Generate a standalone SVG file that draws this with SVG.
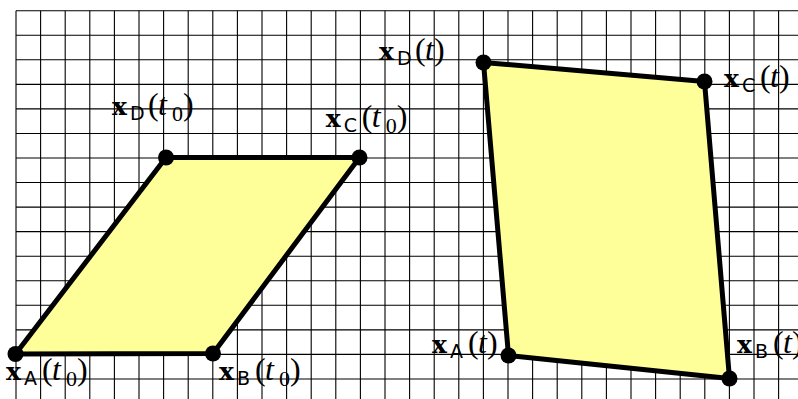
<svg xmlns="http://www.w3.org/2000/svg" width="798" height="399" viewBox="0 0 798 399">
<style>
.grid{stroke:#000;stroke-width:1.1;fill:none}
.shape{fill:#ffff99;stroke:#000;stroke-width:5;stroke-linejoin:round}
.dot{fill:#000}
.lbl{font-family:"Liberation Serif",serif;font-size:32px;fill:#000}
.bx{font-family:"DejaVu Serif",serif;font-weight:bold;font-size:25px}
.sub{font-family:"DejaVu Sans",sans-serif;font-size:19px}
.it{font-style:italic}
.num{font-size:22px}
</style>
<rect width="798" height="399" fill="#fff"/>
<g id="grid" class="grid">
<path d="M16 10.7V399M40.6 10.7V399M65.2 10.7V399M89.8 10.7V399M114.4 10.7V399M139 10.7V399M163.6 10.7V399M188.2 10.7V399M212.8 10.7V399M237.4 10.7V399M262 10.7V399M286.6 10.7V399M311.2 10.7V399M335.8 10.7V399M360.4 10.7V399M385 10.7V399M409.6 10.7V399M434.2 10.7V399M458.8 10.7V399M483.4 10.7V399M508 10.7V399M532.6 10.7V399M557.2 10.7V399M581.8 10.7V399M606.4 10.7V399M631 10.7V399M655.6 10.7V399M680.2 10.7V399M704.8 10.7V399M729.4 10.7V399M754 10.7V399M778.6 10.7V399"/>
<path d="M16 10.7H798M16 35.25H798M16 59.8H798M16 84.35H798M16 108.9H798M16 133.45H798M16 158H798M16 182.55H798M16 207.1H798M16 231.65H798M16 256.2H798M16 280.75H798M16 305.3H798M16 329.85H798M16 354.4H798M16 378.95H798"/>
</g>
<g id="connectors">
<polygon id="shape-t0" class="shape" points="15.5,354 213,353.5 359.5,157.5 166,157.5"/>
<polygon id="shape-t" class="shape" points="508.5,355.5 729.5,378.5 704.5,81.5 483.5,62.5"/>
</g>
<g id="A0"><circle class="dot" cx="15.5" cy="354" r="8"/>
<text class="lbl" y="380"><tspan class="bx" x="6">x</tspan><tspan class="sub" x="24" y="385">A</tspan><tspan x="42" y="380">(</tspan><tspan class="it" x="52">t</tspan><tspan class="num" x="66" y="386">0</tspan><tspan x="77" y="380">)</tspan></text></g>
<g id="B0"><circle class="dot" cx="213" cy="353.5" r="8"/>
<text class="lbl" y="380"><tspan class="bx" x="219">x</tspan><tspan class="sub" x="237" y="385">B</tspan><tspan x="255" y="380">(</tspan><tspan class="it" x="265">t</tspan><tspan class="num" x="279" y="386">0</tspan><tspan x="290" y="380">)</tspan></text></g>
<g id="C0"><circle class="dot" cx="359.5" cy="157.5" r="8"/>
<text class="lbl" y="127"><tspan class="bx" x="325.7">x</tspan><tspan class="sub" x="343.7" y="132">C</tspan><tspan x="361.7" y="127">(</tspan><tspan class="it" x="371.7">t</tspan><tspan class="num" x="385.7" y="133">0</tspan><tspan x="396.7" y="127">)</tspan></text></g>
<g id="D0"><circle class="dot" cx="166" cy="157.5" r="8"/>
<text class="lbl" y="115"><tspan class="bx" x="112">x</tspan><tspan class="sub" x="130" y="120">D</tspan><tspan x="148" y="115">(</tspan><tspan class="it" x="158">t</tspan><tspan class="num" x="172" y="121">0</tspan><tspan x="183" y="115">)</tspan></text></g>
<g id="A"><circle class="dot" cx="508.5" cy="355.5" r="8"/>
<text class="lbl" y="353"><tspan class="bx" x="432">x</tspan><tspan class="sub" x="450" y="358">A</tspan><tspan x="468" y="353">(</tspan><tspan class="it" x="478">t</tspan><tspan x="487">)</tspan></text></g>
<g id="B"><circle class="dot" cx="729.5" cy="378.5" r="8"/>
<text class="lbl" y="353"><tspan class="bx" x="737">x</tspan><tspan class="sub" x="755" y="358">B</tspan><tspan x="773" y="353">(</tspan><tspan class="it" x="783">t</tspan><tspan x="792">)</tspan></text></g>
<g id="C"><circle class="dot" cx="704.5" cy="81.5" r="8"/>
<text class="lbl" y="87"><tspan class="bx" x="724">x</tspan><tspan class="sub" x="742" y="92">C</tspan><tspan x="760" y="87">(</tspan><tspan class="it" x="770">t</tspan><tspan x="779">)</tspan></text></g>
<g id="D"><circle class="dot" cx="483.5" cy="62.5" r="8"/>
<text class="lbl" y="60"><tspan class="bx" x="379">x</tspan><tspan class="sub" x="397" y="65">D</tspan><tspan x="415" y="60">(</tspan><tspan class="it" x="425">t</tspan><tspan x="434">)</tspan></text></g>
</svg>
